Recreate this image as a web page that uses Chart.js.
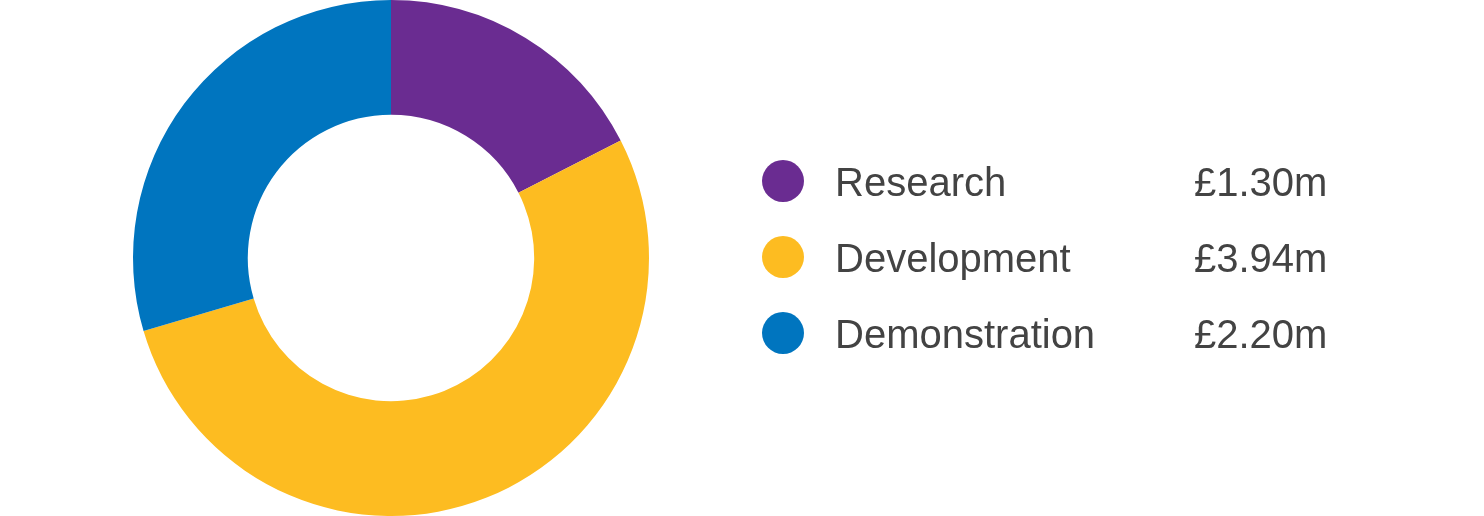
<!DOCTYPE html>
<html>
<head>
<meta charset="utf-8">
<script src="https://cdn.jsdelivr.net/npm/chart.js@4"></script>
<style>
  html, body { margin: 0; padding: 0; background: #fff; }
  #wrap { width: 1484px; height: 516px; }
</style>
</head>
<body>
<div id="wrap"><canvas id="fundingChart" width="1484" height="516"></canvas></div>
<script>
  // chart data
  const categories = ['Research', 'Development', 'Demonstration'];
  const amounts = [1.30, 3.94, 2.20];
  const amountLabels = ['£1.30m', '£3.94m', '£2.20m'];
  const colours = ['#6a2c91', '#fdbc21', '#0075bf'];

  // draws the legend to the right of the doughnut
  const sideLegend = {
    id: 'sideLegend',
    afterDraw: function (chart) {
      const ctx = chart.ctx;
      const rowY = [181, 257, 333];
      ctx.save();
      ctx.font = '40px "Liberation Sans", Arial, sans-serif';
      ctx.textBaseline = 'alphabetic';
      chart.data.labels.forEach(function (label, i) {
        const y = rowY[i];
        ctx.fillStyle = chart.data.datasets[0].backgroundColor[i];
        ctx.beginPath();
        ctx.arc(783, y, 21, 0, Math.PI * 2);
        ctx.fill();
        ctx.fillStyle = '#434343';
        ctx.textAlign = 'left';
        ctx.fillText(label, 835, y + 15);
        ctx.fillText(amountLabels[i], 1194, y + 15);
      });
      ctx.restore();
    }
  };

  new Chart(document.getElementById('fundingChart').getContext('2d'), {
    type: 'doughnut',
    data: {
      labels: categories,
      datasets: [{
        data: amounts,
        backgroundColor: colours,
        borderWidth: 0
      }]
    },
    options: {
      responsive: false,
      animation: false,
      cutout: '55.5%',
      layout: { padding: { left: 133, right: 835, top: 0, bottom: 0 } },
      plugins: {
        legend: { display: false },
        tooltip: { enabled: false }
      }
    },
    plugins: [sideLegend]
  });
</script>
</body>
</html>
